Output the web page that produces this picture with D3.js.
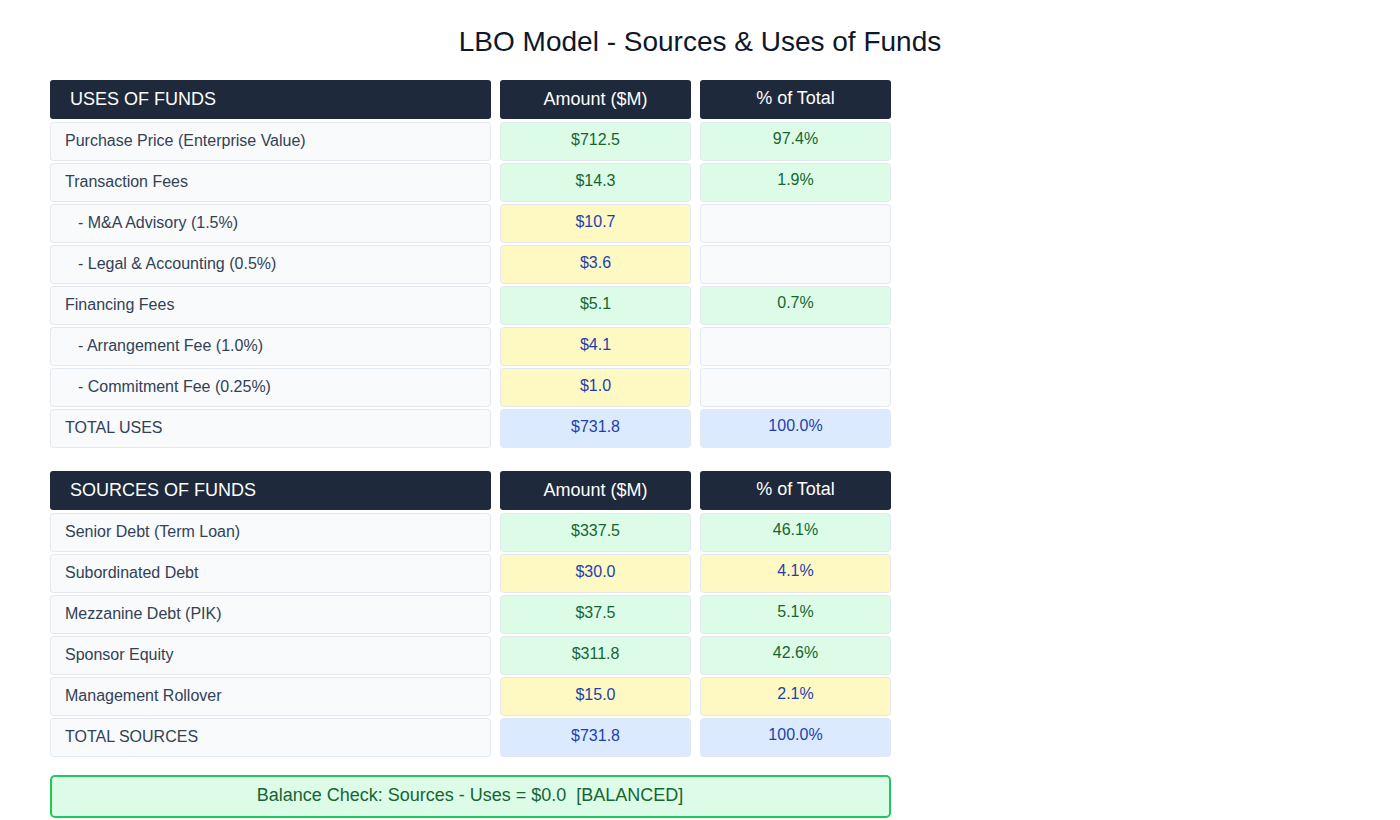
<!DOCTYPE html>
<html>
<head>
<meta charset="utf-8">
<script src="https://cdn.jsdelivr.net/npm/d3@7"></script>
<style>
  body { margin: 0; background: #fff; font-family: "Liberation Sans", Arial, Helvetica, sans-serif; }
</style>
</head>
<body>
<div id="chart"></div>
<script>

// data

var usesLabels = ["Purchase Price (Enterprise Value)", "Transaction Fees", "- M&A Advisory (1.5%)",
                  "- Legal & Accounting (0.5%)", "Financing Fees", "- Arrangement Fee (1.0%)",
                  "- Commitment Fee (0.25%)", "TOTAL USES"];
var usesAmounts = [712.5, 14.3, 10.7, 3.6, 5.1, 4.1, 1.0, 731.8];
var usesPct = [97.4, 1.9, null, null, 0.7, null, null, 100.0];
var usesKind = ["main", "main", "sub", "sub", "main", "sub", "sub", "total"];

var sourcesLabels = ["Senior Debt (Term Loan)", "Subordinated Debt", "Mezzanine Debt (PIK)",
                     "Sponsor Equity", "Management Rollover", "TOTAL SOURCES"];
var sourcesAmounts = [337.5, 30.0, 37.5, 311.8, 15.0, 731.8];
var sourcesPct = [46.1, 4.1, 5.1, 42.6, 2.1, 100.0];
var sourcesKind = ["main", "flag", "main", "main", "flag", "total"];

var headers = ["Amount ($M)", "% of Total"];
var balance = 0.0;

// layout

var width = 1400,
    height = 820,
    rowStep = 41,
    rowH = 39,
    headH = 39;

var formatAmt = function(v) { return "$" + d3.format(",.1f")(v); },
    formatPer = function(v) { return d3.format(".1f")(v) + "%"; };

var fills = {
  label: "#f8fafc", green: "#dcfce7", yellow: "#fef9c3", blue: "#dbeafe", empty: "#f8fafc"
};
var inks = { green: "#166534", yellow: "#1e40af", blue: "#1e40af" };

// columns

var xScale = d3.scaleOrdinal().domain(["label", "amount", "pct"]).range([50, 500, 700]);
var colW = { label: 441, amount: 191, pct: 191 };

var svg = d3.select("#chart")
  .append("svg")
    .attr("width", width)
    .attr("height", height);

svg.append("text")
  .attr("x", 700)
  .attr("y", 51)
  .attr("text-anchor", "middle")
  .attr("font-size", 28)
  .attr("fill", "#0f172a")
  .text("LBO Model - Sources & Uses of Funds");

function drawSection(top, title, labels, amounts, pct, kinds) {

  var rows = labels.map(function(d, i) {
    return { label: d, amount: amounts[i], pct: pct[i], kind: kinds[i], i: i };
  });

  var n = rows.length;

  var yScale = d3.scaleBand()
    .domain(d3.range(n))
    .range([top + 42, top + 42 + n * rowStep - (rowStep - rowH)])
    .paddingInner((rowStep - rowH) / rowStep);

  var g = svg.append("g");

  // header

  var heads = [{ col: "label", text: title }, { col: "amount", text: headers[0] }, { col: "pct", text: headers[1] }];

  g.selectAll(".head")
    .data(heads)
    .enter()
    .append("rect")
      .attr("x", function(d) { return xScale(d.col); })
      .attr("y", top)
      .attr("width", function(d) { return colW[d.col]; })
      .attr("height", headH)
      .attr("rx", 3)
      .attr("fill", "#1e293b");

  g.selectAll(".headText")
    .data(heads)
    .enter()
    .append("text")
      .attr("x", function(d) { return d.col == "label" ? xScale(d.col) + 20 : xScale(d.col) + colW[d.col] / 2; })
      .attr("y", function(d) { return top + headH / 2 + (d.col == "pct" ? -2 : -1); })
      .attr("dy", "0.35em")
      .attr("text-anchor", function(d) { return d.col == "label" ? "start" : "middle"; })
      .attr("font-size", 18)
      .attr("fill", "#ffffff")
      .text(function(d) { return d.text; });

  // label cells

  g.selectAll(".labelCell")
    .data(rows)
    .enter()
    .append("rect")
      .attr("x", xScale("label") + 0.5)
      .attr("y", function(d) { return yScale(d.i) + 0.5; })
      .attr("width", colW.label - 1)
      .attr("height", yScale.bandwidth() - 1)
      .attr("rx", 3)
      .attr("fill", fills.label)
      .attr("stroke", "#e2e8f0");

  g.selectAll(".labelText")
    .data(rows)
    .enter()
    .append("text")
      .attr("x", function(d) { return xScale("label") + (d.kind == "sub" ? 28 : 15); })
      .attr("y", function(d) { return yScale(d.i) + yScale.bandwidth() / 2 - 1; })
      .attr("dy", "0.35em")
      .attr("font-size", 16)
      .attr("fill", "#334155")
      .text(function(d) { return d.label; });

  // value cells

  function cellColor(d, col) {
    if (d.kind == "total") return "blue";
    if (col == "pct" && d.pct == null) return "empty";
    if (d.kind == "sub" || d.kind == "flag") return "yellow";
    return "green";
  }

  ["amount", "pct"].forEach(function(col) {

    g.selectAll(".cell_" + col)
      .data(rows)
      .enter()
      .append("rect")
        .attr("x", xScale(col) + 0.5)
        .attr("y", function(d) { return yScale(d.i) + 0.5; })
        .attr("width", colW[col] - 1)
        .attr("height", yScale.bandwidth() - 1)
        .attr("rx", 3)
        .attr("fill", function(d) { return fills[cellColor(d, col)]; })
        .attr("stroke", "#e2e8f0");

    g.selectAll(".val_" + col)
      .data(rows.filter(function(d) { return col == "amount" || d.pct != null; }))
      .enter()
      .append("text")
        .attr("x", xScale(col) + colW[col] / 2)
        .attr("y", function(d) { return yScale(d.i) + yScale.bandwidth() / 2 + (col == "pct" ? -3 : -2); })
        .attr("dy", "0.35em")
        .attr("text-anchor", "middle")
        .attr("font-size", 16)
        .attr("fill", function(d) { return inks[cellColor(d, col)]; })
        .text(function(d) { return col == "amount" ? formatAmt(d.amount) : formatPer(d.pct); });
  });
}

drawSection(80, "USES OF FUNDS", usesLabels, usesAmounts, usesPct, usesKind);
drawSection(471, "SOURCES OF FUNDS", sourcesLabels, sourcesAmounts, sourcesPct, sourcesKind);

// balance check

svg.append("rect")
  .attr("x", 51)
  .attr("y", 776)
  .attr("width", 839)
  .attr("height", 41)
  .attr("rx", 4)
  .attr("fill", "#dcfce7")
  .attr("stroke", "#22c55e")
  .attr("stroke-width", 2);

svg.append("text")
  .attr("x", 470)
  .attr("y", 795)
  .attr("dy", "0.35em")
  .attr("text-anchor", "middle")
  .attr("font-size", 18)
  .attr("fill", "#166534")
  .attr("xml:space", "preserve")
  .style("white-space", "pre")
  .text("Balance Check: Sources - Uses = " + formatAmt(balance) + "  [BALANCED]");

</script>
</body>
</html>
